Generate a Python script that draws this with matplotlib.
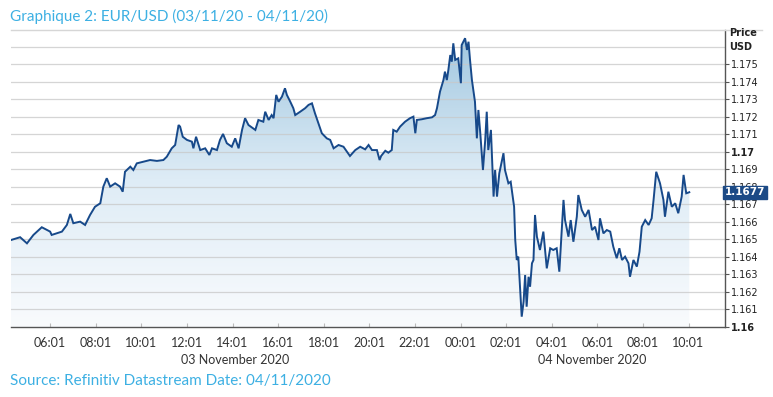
import matplotlib
matplotlib.use('Agg')
import matplotlib.pyplot as plt
import matplotlib.dates as mdates
import numpy as np
import pandas as pd
from matplotlib.colors import LinearSegmentedColormap
from matplotlib.lines import Line2D

# ---------------- data ----------------
times = [
    "11-03 04:18", "11-03 04:42", "11-03 05:00", "11-03 05:17", "11-03 05:39", "11-03 06:01",
    "11-03 06:05", "11-03 06:32", "11-03 06:45", "11-03 06:54", "11-03 07:02", "11-03 07:20",
    "11-03 07:33", "11-03 07:46", "11-03 07:59", "11-03 08:13", "11-03 08:21", "11-03 08:30",
    "11-03 08:39", "11-03 08:52", "11-03 09:05", "11-03 09:12", "11-03 09:18", "11-03 09:32",
    "11-03 09:40", "11-03 09:49", "11-03 10:07", "11-03 10:24", "11-03 10:42", "11-03 10:59",
    "11-03 11:08", "11-03 11:21", "11-03 11:30", "11-03 11:39", "11-03 11:43", "11-03 11:50",
    "11-03 12:01", "11-03 12:14", "11-03 12:18", "11-03 12:25", "11-03 12:36", "11-03 12:49",
    "11-03 13:00", "11-03 13:07", "11-03 13:20", "11-03 13:28", "11-03 13:36", "11-03 13:46",
    "11-03 13:59", "11-03 14:08", "11-03 14:17", "11-03 14:26", "11-03 14:34", "11-03 14:43",
    "11-03 15:01", "11-03 15:09", "11-03 15:22", "11-03 15:27", "11-03 15:36", "11-03 15:44",
    "11-03 15:49", "11-03 15:56", "11-03 16:02", "11-03 16:11", "11-03 16:19", "11-03 16:24",
    "11-03 16:33", "11-03 16:41", "11-03 16:46", "11-03 16:59", "11-03 17:12", "11-03 17:21",
    "11-03 17:30", "11-03 17:38", "11-03 17:47", "11-03 17:56", "11-03 18:09", "11-03 18:18",
    "11-03 18:27", "11-03 18:40", "11-03 18:53", "11-03 19:02", "11-03 19:10", "11-03 19:24",
    "11-03 19:37", "11-03 19:50", "11-03 19:59", "11-03 20:08", "11-03 20:21", "11-03 20:28",
    "11-03 20:32", "11-03 20:43", "11-03 20:51", "11-03 21:00", "11-03 21:04", "11-03 21:13",
    "11-03 21:22", "11-03 21:35", "11-03 21:48", "11-03 21:57", "11-03 22:02", "11-03 22:06",
    "11-03 22:19", "11-03 22:32", "11-03 22:46", "11-03 22:54", "11-03 22:59", "11-03 23:07",
    "11-03 23:16", "11-03 23:20", "11-03 23:25", "11-03 23:29", "11-03 23:34", "11-03 23:38",
    "11-03 23:42", "11-03 23:47", "11-03 23:55", "11-04 00:02", "11-04 00:04", "11-04 00:13",
    "11-04 00:18", "11-04 00:22", "11-04 00:26", "11-04 00:31", "11-04 00:39", "11-04 00:44",
    "11-04 00:48", "11-04 00:53", "11-04 01:00", "11-04 01:06", "11-04 01:10", "11-04 01:14",
    "11-04 01:21", "11-04 01:28", "11-04 01:32", "11-04 01:37", "11-04 01:43", "11-04 01:54",
    "11-04 01:58", "11-04 02:07", "11-04 02:13", "11-04 02:22", "11-04 02:25", "11-04 02:29",
    "11-04 02:33", "11-04 02:36", "11-04 02:42", "11-04 02:47", "11-04 02:51", "11-04 02:55",
    "11-04 03:00", "11-04 03:04", "11-04 03:09", "11-04 03:13", "11-04 03:17", "11-04 03:22",
    "11-04 03:30", "11-04 03:39", "11-04 03:48", "11-04 03:57", "11-04 04:05", "11-04 04:14",
    "11-04 04:21", "11-04 04:28", "11-04 04:32", "11-04 04:36", "11-04 04:45", "11-04 04:51",
    "11-04 04:58", "11-04 05:07", "11-04 05:11", "11-04 05:20", "11-04 05:29", "11-04 05:38",
    "11-04 05:47", "11-04 05:55", "11-04 06:04", "11-04 06:08", "11-04 06:17", "11-04 06:26",
    "11-04 06:35", "11-04 06:43", "11-04 06:52", "11-04 06:59", "11-04 07:06", "11-04 07:14",
    "11-04 07:23", "11-04 07:27", "11-04 07:36", "11-04 07:45", "11-04 07:52", "11-04 07:58",
    "11-04 08:07", "11-04 08:16", "11-04 08:24", "11-04 08:29", "11-04 08:36", "11-04 08:46",
    "11-04 08:55", "11-04 08:59", "11-04 09:08", "11-04 09:17", "11-04 09:26", "11-04 09:34",
    "11-04 09:43", "11-04 09:48", "11-04 09:55", "11-04 10:03",
]

prices = [
    1.16497, 1.16513, 1.16478, 1.16526, 1.16570, 1.16545,
    1.16526, 1.16545, 1.16583, 1.16646, 1.16593, 1.16602,
    1.16583, 1.16640, 1.16687, 1.16707, 1.16802, 1.16850,
    1.16802, 1.16821, 1.16802, 1.16773, 1.16887, 1.16916,
    1.16897, 1.16935, 1.16945, 1.16954, 1.16949, 1.16954,
    1.16973, 1.17021, 1.17040, 1.17154, 1.17145, 1.17087,
    1.17069, 1.17059, 1.17021, 1.17087, 1.17011, 1.17021,
    1.16983, 1.17021, 1.17011, 1.17069, 1.17103, 1.17050,
    1.17030, 1.17078, 1.17021, 1.17126, 1.17193, 1.17154,
    1.17126, 1.17183, 1.17173, 1.17230, 1.17183, 1.17211,
    1.17193, 1.17326, 1.17287, 1.17316, 1.17364, 1.17326,
    1.17287, 1.17250, 1.17211, 1.17230, 1.17250, 1.17269,
    1.17278, 1.17221, 1.17164, 1.17107, 1.17078, 1.17069,
    1.17021, 1.17040, 1.17030, 1.17002, 1.16977, 1.17011,
    1.17030, 1.17015, 1.17040, 1.17011, 1.17011, 1.16954,
    1.16977, 1.17007, 1.16996, 1.17011, 1.17126, 1.17116,
    1.17145, 1.17173, 1.17193, 1.17202, 1.17107, 1.17183,
    1.17187, 1.17193, 1.17198, 1.17211, 1.17250, 1.17345,
    1.17411, 1.17459, 1.17411, 1.17469, 1.17554, 1.17516,
    1.17621, 1.17526, 1.17535, 1.17393, 1.17611, 1.17650,
    1.17583, 1.17630, 1.17526, 1.17411, 1.17287, 1.17078,
    1.17240, 1.17107, 1.16897, 1.17069, 1.17230, 1.17011,
    1.17126, 1.16745, 1.16897, 1.16745, 1.16878, 1.16993,
    1.16897, 1.16821, 1.16830, 1.16687, 1.16497, 1.16383,
    1.16402, 1.16287, 1.16059, 1.16145, 1.16297, 1.16116,
    1.16287, 1.16230, 1.16364, 1.16383, 1.16640, 1.16516,
    1.16440, 1.16545, 1.16335, 1.16450, 1.16440, 1.16450,
    1.16316, 1.16573, 1.16726, 1.16611, 1.16516, 1.16611,
    1.16487, 1.16630, 1.16754, 1.16669, 1.16630, 1.16669,
    1.16554, 1.16573, 1.16497, 1.16621, 1.16535, 1.16554,
    1.16545, 1.16459, 1.16393, 1.16450, 1.16383, 1.16402,
    1.16364, 1.16287, 1.16383, 1.16345, 1.16430, 1.16573,
    1.16611, 1.16583, 1.16621, 1.16726, 1.16887, 1.16821,
    1.16726, 1.16630, 1.16773, 1.16687, 1.16707, 1.16650,
    1.16745, 1.16869, 1.16764, 1.16770,
]

xtick_times = ["11-03 06:01", "11-03 08:01", "11-03 10:01", "11-03 12:01", "11-03 14:01",
               "11-03 16:01", "11-03 18:01", "11-03 20:01", "11-03 22:01", "11-04 00:01",
               "11-04 02:01", "11-04 04:01", "11-04 06:01", "11-04 08:01", "11-04 10:01"]
ytick_values = [1.160, 1.161, 1.162, 1.163, 1.164, 1.165, 1.166, 1.167, 1.168,
                1.169, 1.170, 1.171, 1.172, 1.173, 1.174, 1.175]
last_price_label = "1.1677"
title = "Graphique 2: EUR/USD (03/11/20 - 04/11/20)"
source = "Source: Refinitiv Datastream Date: 04/11/2020"
day_labels = ["03 November 2020", "04 November 2020"]

# ---------------- figure ----------------
W, H = 773, 397
fig = plt.figure(figsize=(W / 100, H / 100), dpi=100)
fig.patch.set_facecolor('white')

ax_l, ax_r, ax_t, ax_b = 11, 725, 30, 327
ax = fig.add_axes([ax_l / W, 1 - ax_b / H, (ax_r - ax_l) / W, (ax_b - ax_t) / H])

t = pd.to_datetime(["2020-" + s for s in times])
x = mdates.date2num(t)
y = np.array(prices)

xmin = mdates.date2num(pd.Timestamp("2020-11-03 04:18"))
xmax = mdates.date2num(pd.Timestamp("2020-11-04 11:37"))
ymin, ymax = 1.160, 1.16997 + 0.007
ax.set_xlim(xmin, xmax)
ax.set_ylim(ymin, ymax)

line_color = '#17498a'
blue_text = '#3db0e3'

# gradient fill under the curve
poly = ax.fill_between(x, y, ymin, facecolor='none', edgecolor='none')
cmap = LinearSegmentedColormap.from_list('g', ['#f9fbfd', '#deecf6', '#9fc6df'])
grad = np.linspace(0, 1, 256).reshape(-1, 1)
im = ax.imshow(grad, extent=[xmin, xmax, ymin, ymax], origin='lower', aspect='auto',
               cmap=cmap, zorder=1, interpolation='bilinear')
im.set_clip_path(poly.get_paths()[0], transform=ax.transData)

# grid lines
for v in np.arange(1.161, 1.1771, 0.001):
    ax.axhline(v, color='#c8c8c8', lw=0.9, alpha=0.75, zorder=2)

ax.plot(x, y, color=line_color, lw=1.4, zorder=3, solid_joinstyle='miter')

# spines
for s in ['left', 'top']:
    ax.spines[s].set_visible(False)
for s in ['bottom', 'right']:
    ax.spines[s].set_color('#555555')
    ax.spines[s].set_linewidth(1.0)

# x ticks
xt = mdates.date2num(pd.to_datetime(["2020-" + s for s in xtick_times]))
ax.set_xticks(xt)
ax.set_xticklabels([s[-5:] for s in xtick_times], fontsize=9, color='#333333',
                   family=['Lato', 'DejaVu Sans'])
ax.tick_params(axis='x', direction='in', length=3, color='#bbbbbb', pad=7)

# y ticks on the right
ax.yaxis.tick_right()
ax.set_yticks(ytick_values)
ylabels = []
for v in ytick_values:
    if abs(v * 100 - round(v * 100)) < 1e-9:
        ylabels.append(f"{v:.2f}")
    else:
        ylabels.append(f"{v:.3f}")
ax.set_yticklabels(ylabels, fontsize=7, color='#222222', family='DejaVu Sans')
for lab, v in zip(ax.get_yticklabels(), ytick_values):
    if abs(v * 100 - round(v * 100)) < 1e-9:
        lab.set_fontweight('bold')
ax.tick_params(axis='y', direction='out', length=3, color='#555555', pad=1)

# price / USD header
fig.text(729 / W, 1 - 33 / H, "Price", fontsize=7, fontweight='bold', color='#222222',
         va='center', ha='left', family='DejaVu Sans')
fig.text(729 / W, 1 - 47 / H, "USD", fontsize=7, fontweight='bold', color='#222222',
         va='center', ha='left', family='DejaVu Sans')

# last price box
ax.annotate(last_price_label, xy=(1.0, y[-1]), xycoords=('axes fraction', 'data'),
            xytext=(0, 0), textcoords='offset points', ha='left', va='center',
            fontsize=7.5, fontweight='bold', color='white', family='DejaVu Sans',
            bbox=dict(boxstyle='square,pad=0.15', fc='#1c4a86', ec='#1c4a86'), zorder=10,
            annotation_clip=False)

# top separator line
fig.add_artist(Line2D([11 / W, 762 / W], [1 - 29.5 / H, 1 - 29.5 / H], color='#d6d6d6', lw=1.0))

# day labels
fig.text(235 / W, 1 - 360 / H, day_labels[0], fontsize=9, color='#333333', ha='center',
         va='center', family=['Lato', 'DejaVu Sans'])
fig.text(592 / W, 1 - 360 / H, day_labels[1], fontsize=9, color='#333333', ha='center',
         va='center', family=['Lato', 'DejaVu Sans'])

# title and source
fig.text(10 / W, 1 - 16 / H, title, fontsize=11, color=blue_text, ha='left', va='center',
         family=['Lato', 'DejaVu Sans'])
fig.text(10 / W, 1 - 381 / H, source, fontsize=11, color=blue_text, ha='left', va='center',
         family=['Lato', 'DejaVu Sans'])

fig.savefig('out.png', dpi=100, facecolor='white')
